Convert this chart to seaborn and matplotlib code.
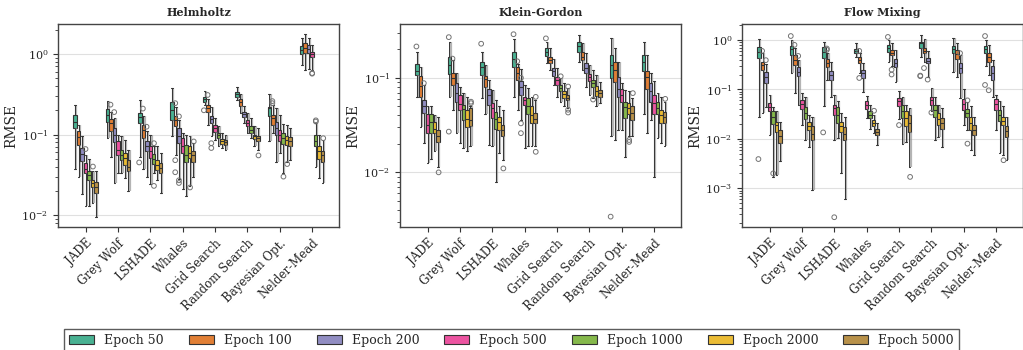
import numpy as np
import pandas as pd
import matplotlib
matplotlib.use('Agg')
import matplotlib.pyplot as plt
import matplotlib.patheffects as pe
from matplotlib.colors import to_rgb
from matplotlib.patches import Patch
import seaborn as sns

methods = ['JADE', 'Grey Wolf', 'LSHADE', 'Whales', 'Grid Search',
           'Random Search', 'Bayesian Opt.', 'Nelder-Mead']
epochs = ['Epoch 50', 'Epoch 100', 'Epoch 200', 'Epoch 500',
          'Epoch 1000', 'Epoch 2000', 'Epoch 5000']
titles = ['Helmholtz', 'Klein-Gordon', 'Flow Mixing']

# (whisker low, q1, median, q3, whisker high) per epoch, one row per method
helmholtz_boxes = [
    [(0.037, 0.12, 0.145, 0.175, 0.23), (0.030, 0.075, 0.092, 0.11, 0.13), (0.018, 0.047, 0.058, 0.068, 0.095),
     (0.013, 0.033, 0.037, 0.044, 0.055), (0.013, 0.027, 0.031, 0.035, 0.05), (0.014, 0.0226, 0.025, 0.027, 0.035),
     (0.0095, 0.019, 0.022, 0.026, 0.035)],
    [(0.09, 0.145, 0.175, 0.21, 0.26), (0.053, 0.112, 0.138, 0.155, 0.19), (0.025, 0.08, 0.1, 0.12, 0.16),
     (0.033, 0.056, 0.065, 0.082, 0.1), (0.033, 0.048, 0.056, 0.065, 0.095), (0.029, 0.042, 0.051, 0.059, 0.086),
     (0.02, 0.035, 0.04, 0.048, 0.065)],
    [(0.053, 0.138, 0.164, 0.184, 0.27), (0.037, 0.09, 0.114, 0.132, 0.17), (0.03, 0.062, 0.071, 0.082, 0.11),
     (0.024, 0.051, 0.062, 0.071, 0.1), (0.033, 0.043, 0.05, 0.058, 0.072), (0.027, 0.036, 0.042, 0.048, 0.071),
     (0.019, 0.033, 0.038, 0.044, 0.059)],
    [(0.095, 0.152, 0.2, 0.256, 0.375), (0.056, 0.126, 0.152, 0.168, 0.22), (0.028, 0.078, 0.095, 0.12, 0.15),
     (0.021, 0.059, 0.071, 0.09, 0.104), (0.017, 0.045, 0.056, 0.075, 0.1), (0.023, 0.051, 0.059, 0.071, 0.095),
     (0.03, 0.046, 0.056, 0.062, 0.078)],
    [(0.23, 0.257, 0.277, 0.296, 0.35), (0.132, 0.19, 0.212, 0.233, 0.28), (0.095, 0.14, 0.155, 0.17, 0.22),
     (0.086, 0.108, 0.122, 0.132, 0.16), (0.071, 0.09, 0.1, 0.103, 0.126), (0.068, 0.077, 0.082, 0.088, 0.104),
     (0.065, 0.075, 0.08, 0.086, 0.1)],
    [(0.27, 0.296, 0.318, 0.34, 0.394), (0.184, 0.227, 0.256, 0.28, 0.32), (0.138, 0.164, 0.178, 0.19, 0.227),
     (0.104, 0.128, 0.14, 0.152, 0.184), (0.09, 0.104, 0.114, 0.126, 0.16), (0.071, 0.087, 0.095, 0.1, 0.126),
     (0.065, 0.082, 0.09, 0.097, 0.12)],
    [(0.082, 0.17, 0.212, 0.222, 0.32), (0.104, 0.132, 0.16, 0.175, 0.23), (0.045, 0.1, 0.12, 0.145, 0.212),
     (0.059, 0.082, 0.1, 0.115, 0.175), (0.033, 0.077, 0.09, 0.104, 0.136), (0.045, 0.075, 0.086, 0.097, 0.13),
     (0.048, 0.071, 0.082, 0.094, 0.12)],
    [(0.73, 1.0, 1.12, 1.26, 1.6), (0.63, 1.04, 1.18, 1.36, 1.77), (0.66, 1.02, 1.14, 1.3, 1.56),
     (0.63, 0.91, 1.0, 1.07, 1.3), (0.04, 0.071, 0.082, 0.1, 0.138), (0.029, 0.049, 0.062, 0.071, 0.1),
     (0.025, 0.046, 0.056, 0.062, 0.085)],
]
# (method index, epoch index, value)
helmholtz_fliers = [
    (0, 3, 0.066), (0, 5, 0.04), (1, 1, 0.235), (1, 2, 0.19), (2, 0, 0.045), (2, 1, 0.21),
    (2, 2, 0.125), (2, 4, 0.078), (2, 4, 0.023), (3, 1, 0.245), (3, 1, 0.048), (3, 1, 0.034),
    (3, 2, 0.168), (3, 2, 0.027), (3, 2, 0.025), (3, 5, 0.022), (3, 6, 0.082), (4, 0, 0.2),
    (4, 1, 0.31), (4, 2, 0.078), (4, 2, 0.068), (5, 6, 0.055), (6, 1, 0.26), (6, 1, 0.245),
    (6, 4, 0.03), (6, 5, 0.043), (7, 3, 0.58), (7, 3, 0.57), (7, 4, 0.15), (7, 4, 0.145), (7, 6, 0.09),
]

klein_gordon_boxes = [
    [(0.063, 0.108, 0.117, 0.141, 0.19), (0.03, 0.063, 0.082, 0.105, 0.132), (0.0203, 0.042, 0.05, 0.059, 0.084),
     (0.0125, 0.026, 0.032, 0.041, 0.05), (0.014, 0.026, 0.034, 0.041, 0.05), (0.017, 0.026, 0.029, 0.034, 0.04),
     (0.0115, 0.021, 0.024, 0.028, 0.039)],
    [(0.063, 0.11, 0.137, 0.165, 0.24), (0.046, 0.084, 0.1, 0.112, 0.155), (0.026, 0.056, 0.07, 0.088, 0.112),
     (0.0203, 0.046, 0.053, 0.066, 0.081), (0.018, 0.036, 0.047, 0.052, 0.069), (0.017, 0.03, 0.037, 0.046, 0.063),
     (0.019, 0.031, 0.036, 0.048, 0.05)],
    [(0.061, 0.108, 0.132, 0.149, 0.19), (0.041, 0.08, 0.097, 0.105, 0.137), (0.0196, 0.052, 0.066, 0.076, 0.095),
     (0.019, 0.038, 0.048, 0.054, 0.075), (0.008, 0.029, 0.037, 0.044, 0.058), (0.016, 0.028, 0.034, 0.039, 0.05),
     (0.0135, 0.024, 0.028, 0.032, 0.046)],
    [(0.063, 0.132, 0.16, 0.19, 0.26), (0.046, 0.095, 0.114, 0.132, 0.14), (0.036, 0.066, 0.08, 0.092, 0.125),
     (0.018, 0.052, 0.059, 0.063, 0.084), (0.019, 0.041, 0.05, 0.061, 0.078), (0.019, 0.033, 0.04, 0.05, 0.063),
     (0.019, 0.033, 0.037, 0.042, 0.058)],
    [(0.143, 0.17, 0.19, 0.207, 0.24), (0.12, 0.143, 0.156, 0.168, 0.207), (0.084, 0.105, 0.117, 0.127, 0.16),
     (0.063, 0.084, 0.094, 0.102, 0.127), (0.056, 0.072, 0.078, 0.084, 0.1), (0.05, 0.062, 0.068, 0.073, 0.088),
     (0.048, 0.058, 0.062, 0.066, 0.079)],
    [(0.149, 0.19, 0.215, 0.237, 0.286), (0.12, 0.155, 0.168, 0.19, 0.233), (0.08, 0.112, 0.127, 0.143, 0.183),
     (0.066, 0.092, 0.102, 0.11, 0.137), (0.062, 0.081, 0.088, 0.095, 0.12), (0.05, 0.064, 0.073, 0.082, 0.107),
     (0.054, 0.063, 0.069, 0.075, 0.091)],
    [(0.024, 0.1, 0.137, 0.173, 0.262), (0.022, 0.091, 0.122, 0.149, 0.207), (0.028, 0.063, 0.076, 0.103, 0.149),
     (0.028, 0.056, 0.066, 0.076, 0.088), (0.0147, 0.038, 0.049, 0.056, 0.075), (0.024, 0.041, 0.048, 0.054, 0.072),
     (0.024, 0.036, 0.042, 0.05, 0.062)],
    [(0.041, 0.117, 0.149, 0.173, 0.237), (0.026, 0.076, 0.102, 0.117, 0.173), (0.036, 0.056, 0.072, 0.089, 0.112),
     (0.009, 0.041, 0.054, 0.066, 0.092), (0.023, 0.041, 0.048, 0.056, 0.069), (0.0203, 0.033, 0.04, 0.046, 0.063),
     (0.019, 0.033, 0.039, 0.044, 0.055)],
]
klein_gordon_fliers = [
    (0, 0, 0.215), (0, 2, 0.088), (0, 6, 0.01), (1, 0, 0.27), (1, 0, 0.027), (1, 1, 0.16),
    (1, 6, 0.056), (1, 6, 0.054), (2, 0, 0.23), (2, 6, 0.011), (3, 0, 0.29), (3, 1, 0.15),
    (3, 2, 0.1), (3, 2, 0.033), (3, 2, 0.026), (3, 6, 0.063), (3, 6, 0.0165), (4, 0, 0.262),
    (4, 4, 0.104), (4, 6, 0.081), (4, 6, 0.046), (4, 6, 0.043), (5, 4, 0.059), (6, 0, 0.0034),
    (6, 5, 0.022), (6, 5, 0.021), (6, 6, 0.069), (7, 6, 0.06),
]

flow_mixing_boxes = [
    [(0.028, 0.426, 0.58, 0.733, 1.03), (0.033, 0.247, 0.313, 0.365, 0.55), (0.045, 0.133, 0.181, 0.228, 0.33),
     (0.012, 0.036, 0.045, 0.054, 0.077), (0.0017, 0.02, 0.028, 0.036, 0.045), (0.0019, 0.014, 0.019, 0.022, 0.036),
     (0.0035, 0.0082, 0.0114, 0.015, 0.022)],
    [(0.218, 0.497, 0.647, 0.756, 1.0), (0.086, 0.313, 0.394, 0.497, 0.7), (0.048, 0.187, 0.228, 0.289, 0.4),
     (0.019, 0.04, 0.051, 0.061, 0.086), (0.0095, 0.025, 0.033, 0.044, 0.0714), (0.007, 0.015, 0.018, 0.022, 0.03),
     (0.00093, 0.0095, 0.0126, 0.018, 0.028)],
    [(0.046, 0.44, 0.58, 0.733, 0.925), (0.155, 0.289, 0.348, 0.406, 0.55), (0.071, 0.155, 0.196, 0.24, 0.365),
     (0.0095, 0.03, 0.042, 0.049, 0.077), (0.0104, 0.021, 0.03, 0.044, 0.057), (0.002, 0.014, 0.018, 0.022, 0.033),
     (0.0006, 0.0095, 0.0126, 0.017, 0.028)],
    [(0.46, 0.538, 0.6, 0.647, 0.856), (0.212, 0.348, 0.394, 0.446, 0.55), (0.09, 0.168, 0.212, 0.247, 0.337),
     (0.026, 0.041, 0.048, 0.057, 0.074), (0.016, 0.026, 0.03, 0.036, 0.048), (0.0134, 0.018, 0.021, 0.024, 0.03),
     (0.0075, 0.012, 0.0139, 0.0156, 0.0207)],
    [(0.365, 0.58, 0.678, 0.79, 1.0), (0.3, 0.497, 0.554, 0.628, 0.856), (0.144, 0.289, 0.348, 0.406, 0.628),
     (0.025, 0.046, 0.058, 0.066, 0.093), (0.0078, 0.026, 0.036, 0.049, 0.071), (0.0087, 0.018, 0.026, 0.036, 0.048),
     (0.0027, 0.014, 0.0207, 0.03, 0.042)],
    [(0.46, 0.678, 0.856, 0.925, 1.26), (0.365, 0.538, 0.608, 0.678, 1.03), (0.181, 0.337, 0.382, 0.426, 0.608),
     (0.036, 0.048, 0.061, 0.071, 0.105), (0.0095, 0.028, 0.038, 0.048, 0.071), (0.011, 0.019, 0.025, 0.033, 0.048),
     (0.0067, 0.016, 0.021, 0.026, 0.042)],
    [(0.229, 0.538, 0.647, 0.756, 1.11), (0.181, 0.406, 0.521, 0.628, 0.884), (0.066, 0.218, 0.267, 0.337, 0.5),
     (0.019, 0.038, 0.051, 0.063, 0.1), (0.0152, 0.028, 0.034, 0.041, 0.055), (0.006, 0.0152, 0.021, 0.028, 0.046),
     (0.0047, 0.012, 0.0152, 0.019, 0.028)],
    [(0.3, 0.538, 0.647, 0.756, 1.0), (0.2, 0.365, 0.446, 0.538, 0.79), (0.071, 0.155, 0.212, 0.3, 0.394),
     (0.0152, 0.038, 0.051, 0.063, 0.077), (0.0051, 0.023, 0.03, 0.038, 0.057), (0.0047, 0.019, 0.0234, 0.028, 0.046),
     (0.0037, 0.011, 0.0147, 0.018, 0.028)],
]
flow_mixing_fliers = [
    (0, 0, 0.0039), (0, 1, 0.6), (0, 2, 0.39), (0, 4, 0.002), (1, 0, 1.2), (1, 1, 0.795),
    (1, 2, 0.475), (2, 0, 0.0135), (2, 1, 0.67), (2, 1, 0.63), (2, 3, 0.00026), (3, 1, 0.6),
    (3, 1, 0.17), (3, 5, 0.037), (4, 0, 1.15), (4, 1, 0.25), (4, 1, 0.2), (4, 3, 0.019),
    (4, 6, 0.0017), (5, 0, 0.19), (5, 0, 0.185), (5, 1, 0.27), (5, 2, 0.158), (5, 3, 0.034),
    (6, 2, 0.54), (6, 4, 0.06), (6, 4, 0.008), (7, 0, 1.2), (7, 0, 0.123), (7, 1, 0.096), (7, 5, 0.0037),
]

y_limits = [(0.0071, 2.36), (0.00264, 0.372), (1.65e-4, 2.1)]


def box_frame(boxes):
    rows = []
    for m, method in enumerate(methods):
        for e, epoch in enumerate(epochs):
            for v in boxes[m][e]:
                rows.append((method, epoch, v))
    return pd.DataFrame(rows, columns=['method', 'epoch', 'rmse'])


def flier_frame(fliers):
    rows = [(methods[m], epochs[e], v) for m, e, v in fliers]
    return pd.DataFrame(rows, columns=['method', 'epoch', 'rmse'])


sns.set_theme(style='ticks')
plt.rcParams['font.family'] = ['DejaVu Serif']
plt.rcParams['mathtext.fontset'] = 'dejavuserif'

# Dark2, lightened a bit
palette = [tuple(0.8 * np.array(to_rgb(c)) + 0.2) for c in sns.color_palette('Dark2', 7)]
edge = '#333333'

fig = plt.figure(figsize=(10.23, 3.5), dpi=100)
lefts = [58, 400, 742]
axes = [fig.add_axes([l / 1023, 1 - 227 / 350, 281 / 1023, 203 / 350]) for l in lefts]

# thin dark whisker with a soft grey shadow to its right
whisker_fx = [pe.Stroke(linewidth=1.6, foreground='0.55', alpha=0.65, offset=(0.9, 0)), pe.Normal()]

panels = [(helmholtz_boxes, helmholtz_fliers), (klein_gordon_boxes, klein_gordon_fliers),
          (flow_mixing_boxes, flow_mixing_fliers)]

for ax, title, (boxes, fliers), ylim in zip(axes, titles, panels, y_limits):
    ax.set_yscale('log')
    sns.boxplot(data=box_frame(boxes), x='method', y='rmse', hue='epoch',
                order=methods, hue_order=epochs, palette=palette, saturation=1,
                width=0.75, gap=0.0, whis=(0, 100), showfliers=False,
                linecolor=edge, linewidth=0.8, log_scale=(False, True),
                legend=False, ax=ax,
                whiskerprops=dict(linewidth=0.7, path_effects=whisker_fx))
    n_before = len(ax.collections)
    sns.stripplot(data=flier_frame(fliers), x='method', y='rmse', hue='epoch',
                  order=methods, hue_order=epochs, palette=palette, dodge=True,
                  jitter=False, size=3.4, legend=False, ax=ax)
    for coll in ax.collections[n_before:]:
        coll.set_facecolor('none')
        coll.set_edgecolor('0.45')
        coll.set_linewidth(0.7)

    ax.set_ylim(*ylim)
    ax.set_xlim(-0.85, 7.83)
    ax.grid(axis='y', which='major', color='0.88', linewidth=0.8)
    ax.set_axisbelow(True)
    ax.set_title(title, fontsize=8, fontweight='bold', pad=6)
    ax.set_xlabel('')
    ax.set_ylabel('RMSE', fontsize=10, labelpad=2)
    ax.tick_params(axis='y', labelsize=8, length=3.5, width=0.8, color=edge)
    ax.tick_params(axis='y', which='minor', length=2, width=0.6, color=edge)
    ax.tick_params(axis='x', labelsize=8.5, length=3.5, width=0.8, color=edge)
    plt.setp(ax.get_xticklabels(), rotation=45, ha='right', rotation_mode='anchor')
    for s in ax.spines.values():
        s.set_color('#444444')
        s.set_linewidth(1.0)

handles = [Patch(facecolor=c, edgecolor=edge, linewidth=0.8, label=e) for c, e in zip(palette, epochs)]
fig.legend(handles=handles, loc='upper center', bbox_to_anchor=(0.5, 1 - 329 / 350), ncol=7,
           frameon=True, fancybox=False, edgecolor=edge, fontsize=9, borderaxespad=0,
           handlelength=2.0, columnspacing=2.0)

fig.savefig('out.png', dpi=100)
